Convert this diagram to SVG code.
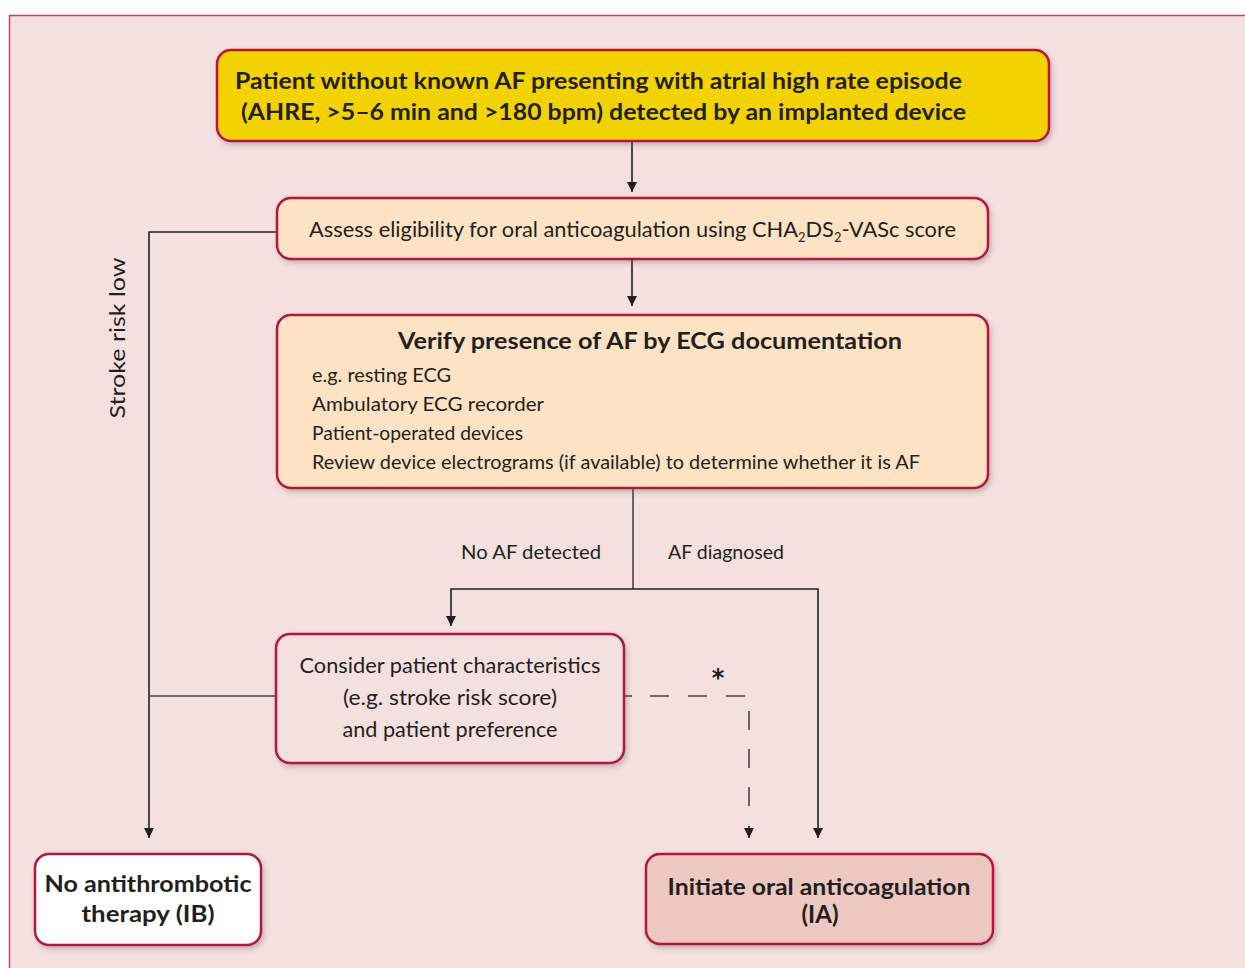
<svg xmlns="http://www.w3.org/2000/svg" width="1245" height="968" viewBox="0 0 1245 968">
<defs>
<filter id="sh" x="-10%" y="-10%" width="130%" height="140%">
<feDropShadow dx="2" dy="3" stdDeviation="2.5" flood-color="#7a5a5a" flood-opacity="0.35"/>
</filter>
<marker id="ah" viewBox="0 0 10 10" refX="10" refY="5" markerWidth="10" markerHeight="10" markerUnits="userSpaceOnUse" orient="auto">
<path d="M0,0 L10,5 L0,10 Z" fill="#231f20"/>
</marker>
<style>
.box{stroke:#b5123e;stroke-width:2.5;filter:url(#sh)}
.t{font-family:Lato,"Open Sans","Liberation Sans",sans-serif;fill:#231f20}
.b{font-weight:bold}
.ln{fill:none;stroke:#4a4546;stroke-width:1.6}
.ar{fill:none;stroke:#231f20;stroke-width:1.6;marker-end:url(#ah)}
.ds{fill:none;stroke:#4a4546;stroke-width:1.6;stroke-dasharray:19,19}
</style>
</defs>
<rect x="9.5" y="15.5" width="1250" height="970" fill="#f3e0df" stroke="#b9486a" stroke-width="1.5"/>

<g id="connectors">
<line class="ar" x1="632" y1="141" x2="632" y2="192"/>
<line class="ar" x1="632" y1="259" x2="632" y2="306"/>
<polyline class="ar" points="277,232 149,232 149,838"/>
<line class="ln" x1="276" y1="696" x2="149" y2="696"/>
<line class="ln" x1="633" y1="488" x2="633" y2="589"/>
<polyline class="ar" points="633,589 451,589 451,626"/>
<polyline class="ar" points="633,589 818,589 818,838"/>
<line class="ln" x1="624" y1="696" x2="632" y2="696"/>
<polyline class="ds" points="650,696 749,696 749,820"/>
<line class="ar" x1="749" y1="826" x2="749" y2="838"/>
<text x="718" y="686" font-family="'DejaVu Sans',sans-serif" font-weight="bold" font-size="24" fill="#231f20" text-anchor="middle">*</text>
<text class="t" x="531" y="559" font-size="20" textLength="140" lengthAdjust="spacingAndGlyphs" text-anchor="middle">No AF detected</text>
<text class="t" x="726" y="559" font-size="20" textLength="116" lengthAdjust="spacingAndGlyphs" text-anchor="middle">AF diagnosed</text>
<text class="t" transform="translate(125,338) rotate(-90)" font-size="22" textLength="161" lengthAdjust="spacingAndGlyphs" text-anchor="middle">Stroke risk low</text>
</g>

<g id="n1">
<rect class="box" x="217" y="50" width="832" height="91" rx="14" fill="#f2d300"/>
<text class="t b" x="235" y="89" font-size="23" textLength="727" lengthAdjust="spacingAndGlyphs">Patient without known AF presenting with atrial high rate episode</text>
<text class="t b" x="241" y="120" font-size="23" textLength="725" lengthAdjust="spacingAndGlyphs">(AHRE, &gt;5–6 min and &gt;180 bpm) detected by an implanted device</text>
</g>

<g id="n2">
<rect class="box" x="277" y="198" width="711" height="61" rx="14" fill="#fde3c3"/>
<text class="t" x="309" y="237" font-size="22" textLength="647" lengthAdjust="spacingAndGlyphs">Assess eligibility for oral anticoagulation using CHA<tspan font-size="13" dy="5">2</tspan><tspan dy="-5">DS</tspan><tspan font-size="13" dy="5">2</tspan><tspan dy="-5">-VASc score</tspan></text>
</g>

<g id="n3">
<rect class="box" x="277" y="315" width="711" height="173" rx="14" fill="#fde3c3"/>
<text class="t b" x="650" y="349" font-size="22" textLength="504" lengthAdjust="spacingAndGlyphs" text-anchor="middle">Verify presence of AF by ECG documentation</text>
<text class="t" x="312" y="382" font-size="20" textLength="139" lengthAdjust="spacingAndGlyphs">e.g. resting ECG</text>
<text class="t" x="312" y="411" font-size="20" textLength="232" lengthAdjust="spacingAndGlyphs">Ambulatory ECG recorder</text>
<text class="t" x="312" y="440" font-size="20" textLength="211" lengthAdjust="spacingAndGlyphs">Patient-operated devices</text>
<text class="t" x="312" y="469" font-size="20" textLength="608" lengthAdjust="spacingAndGlyphs">Review device electrograms (if available) to determine whether it is AF</text>
</g>

<g id="n4">
<rect class="box" x="276" y="634" width="348" height="129" rx="14" fill="#f3e0df"/>
<text class="t" x="450" y="673" font-size="22" textLength="301" lengthAdjust="spacingAndGlyphs" text-anchor="middle">Consider patient characteristics</text>
<text class="t" x="450" y="705" font-size="22" textLength="214" lengthAdjust="spacingAndGlyphs" text-anchor="middle">(e.g. stroke risk score)</text>
<text class="t" x="450" y="737" font-size="22" textLength="215" lengthAdjust="spacingAndGlyphs" text-anchor="middle">and patient preference</text>
</g>

<g id="n5">
<rect class="box" x="35" y="854" width="226" height="91" rx="14" fill="#ffffff"/>
<text class="t b" x="148" y="892" font-size="23" textLength="207" lengthAdjust="spacingAndGlyphs" text-anchor="middle">No antithrombotic</text>
<text class="t b" x="148" y="922" font-size="23" textLength="133" lengthAdjust="spacingAndGlyphs" text-anchor="middle">therapy (IB)</text>
</g>

<g id="n6">
<rect class="box" x="646" y="854" width="347" height="90" rx="14" fill="#ecc8c0"/>
<text class="t b" x="819" y="895" font-size="23" textLength="303" lengthAdjust="spacingAndGlyphs" text-anchor="middle">Initiate oral anticoagulation</text>
<text class="t b" x="820" y="923" font-size="24" text-anchor="middle">(IA)</text>
</g>
</svg>
